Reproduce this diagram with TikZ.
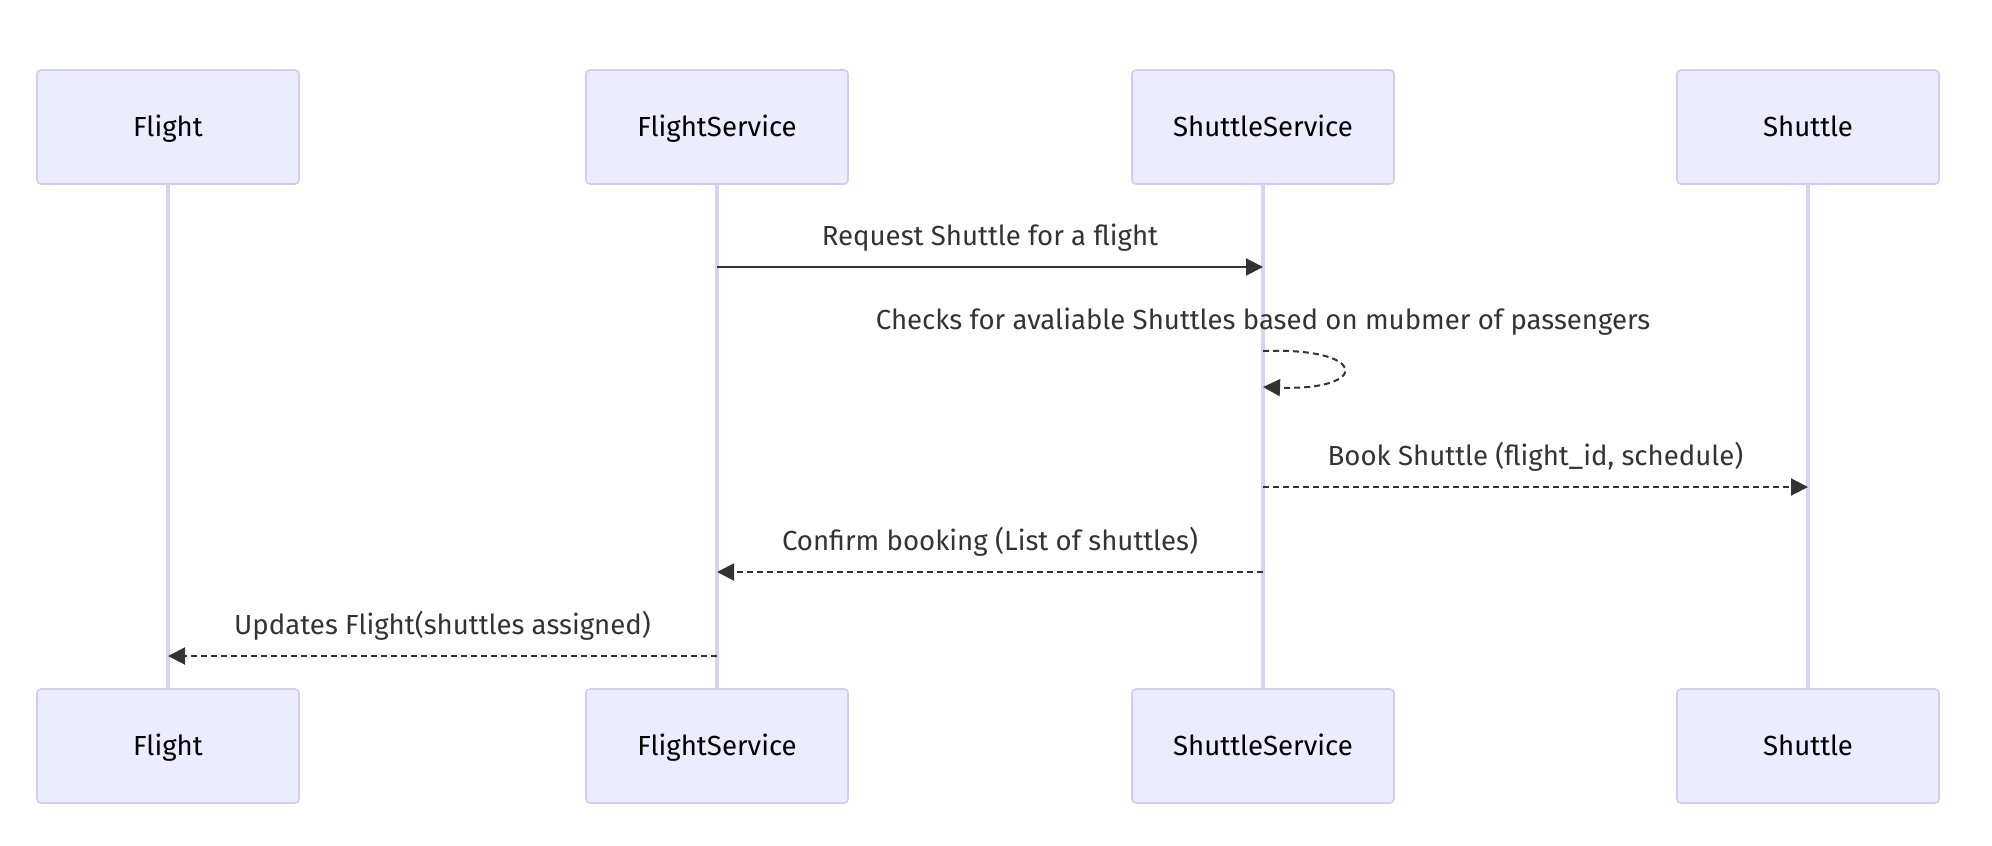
\documentclass[tikz,border=0pt]{standalone}
\usepackage{fontspec}
\setmainfont{Fira Sans}
\usetikzlibrary{arrows.meta}
\definecolor{actorfill}{HTML}{ECECFF}
\definecolor{actorline}{HTML}{D3CBF2}
\definecolor{lifeline}{HTML}{DAD2F4}
\definecolor{msgline}{HTML}{333333}

\begin{document}
\begin{tikzpicture}[x=0.5pt, y=-0.5pt, font=\fontsize{13.8}{16}\selectfont]
\tikzstyle{actor} = [rectangle, draw=actorline, fill=actorfill, line width=0.8pt, rounded corners=2pt, minimum width=131pt, minimum height=57pt, inner sep=0pt, text height=2.1ex, text depth=0.3ex]
\tikzstyle{life} = [draw=lifeline, line width=1.6pt]
\tikzstyle{msg} = [draw=msgline, line width=1pt, -{Triangle[length=8.5pt, width=8.5pt]}]
\tikzstyle{reply} = [msg, dash pattern=on 3pt off 2pt]
\tikzstyle{label} = [text=msgline, text height=2.1ex, text depth=0.3ex, inner sep=0pt]
\useasboundingbox (0,0) rectangle (1992,846);
% actors, top row
\node[actor] (flt) at (168,127) {Flight};
\node[actor] (fst) at (717,127) {FlightService};
\node[actor] (sst) at (1263,127) {ShuttleService};
\node[actor] (sht) at (1808,127) {Shuttle};
% actors, bottom row
\node[actor] (flb) at (168,746) {Flight};
\node[actor] (fsb) at (717,746) {FlightService};
\node[actor] (ssb) at (1263,746) {ShuttleService};
\node[actor] (shb) at (1808,746) {Shuttle};
% lifelines
\draw[life] (flt) -- (flb);
\draw[life] (fst) -- (fsb);
\draw[life] (sst) -- (ssb);
\draw[life] (sht) -- (shb);
% message ends
\coordinate (m1a) at (717,267);
\coordinate (m1b) at (1263,267);
\coordinate (m2a) at (1263,351);
\coordinate (m2b) at (1263,387);
\coordinate (m3a) at (1263,487);
\coordinate (m3b) at (1808,487);
\coordinate (m4a) at (1263,572);
\coordinate (m4b) at (717,572);
\coordinate (m5a) at (717,656);
\coordinate (m5b) at (168,656);
% messages
\draw[msg] (m1a) -- node[label, midway, yshift=15.5pt] {Request Shuttle for a flight} (m1b);
\node[label] (m2t) at (1263,320) {Checks for avaliable Shuttles based on mubmer of passengers};
\draw[reply] (m2a) .. controls (1370,347) and (1370,391) .. (m2b);
\draw[reply] (m3a) -- node[label, midway, yshift=15.5pt] {Book Shuttle (flight\_id, schedule)} (m3b);
\draw[reply] (m4a) -- node[label, midway, yshift=15.5pt] {Confirm booking (List of shuttles)} (m4b);
\draw[reply] (m5a) -- node[label, midway, yshift=15.5pt] {Updates Flight(shuttles assigned)} (m5b);
\end{tikzpicture}
\end{document}
